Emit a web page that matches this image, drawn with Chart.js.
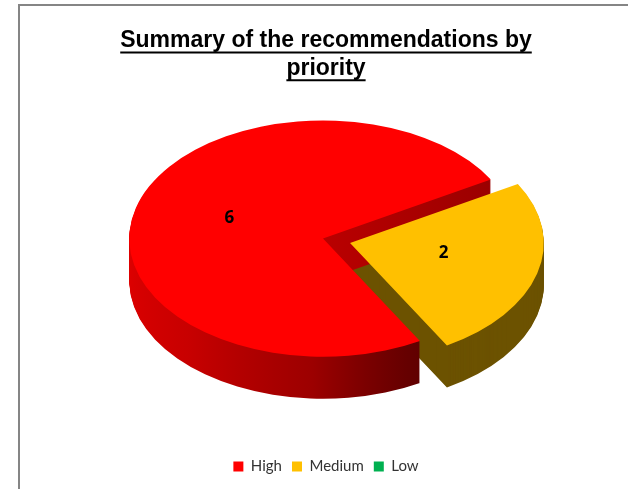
<!DOCTYPE html>
<html>
<head>
<meta charset="utf-8">
<script src="https://cdn.jsdelivr.net/npm/chart.js@4.4.1/dist/chart.umd.min.js"></script>
<style>
  html, body { margin: 0; padding: 0; background: #fff; overflow: hidden; }
  #wrap { position: relative; width: 628px; height: 489px; }
  #frame { position: absolute; left: 18px; top: 4px; width: 700px; height: 600px;
           border-left: 2px solid #858585; border-top: 2px solid #858585; }
  #c { position: absolute; left: 0; top: 0; }
</style>
</head>
<body>
<div id="wrap">
  <div id="frame"></div>
  <canvas id="c" width="628" height="489"></canvas>
</div>
<script>
// Chart content
const titleLines = ['Summary of the recommendations by', 'priority'];
const priorities = ['High', 'Medium', 'Low'];
const counts = [6, 2, 0];

// Styling
const topColors = ['#ff0000', '#ffc000', '#00b050'];
const pulledOut = [0, 80, 0];

// Side colour of each slice (the wall below the top face)
function sideFill(ctx, index, cx, cy, R) {
  if (index === 0) {
    const g = ctx.createLinearGradient(cx - R, cy - 0.6 * R, cx + R, cy + 0.6 * R);
    g.addColorStop(0, '#e80000');
    g.addColorStop(0.4, '#c80000');
    g.addColorStop(0.7, '#9c0000');
    g.addColorStop(0.85, '#680000');
    g.addColorStop(0.9, '#580000');
    g.addColorStop(1, '#500000');
    return g;
  }
  if (index === 1) return '#6c5200';
  return '#006830';
}

// Tilted, extruded pie: the library's arcs are drawn through a squashing
// transform, with stacked darker copies underneath forming the walls.
const pie3d = {
  id: 'pie3d',
  view(chart, opts) {
    const arcs = chart.getDatasetMeta(0).data;
    const a = arcs[0];
    const cx = a.x, cy = a.y;
    const sx = opts.stretch, sy = opts.stretch * opts.tilt;
    const tx = cx + opts.shiftX, ty = cy + opts.shiftY;
    return { arcs, cx, cy, sx, sy, tx, ty, R: a.outerRadius };
  },
  apply(ctx, v, dy) {
    ctx.translate(v.tx, v.ty + dy);
    ctx.scale(v.sx, v.sy);
    ctx.translate(-v.cx, -v.cy);
  },
  beforeDatasetsDraw(chart, args, opts) {
    const ctx = chart.ctx;
    const v = this.view(chart, opts);
    for (let i = v.arcs.length - 1; i >= 0; i--) {
      const arc = v.arcs[i];
      ctx.save();
      this.apply(ctx, v, 0);
      const fill = sideFill(ctx, i, v.cx, v.cy, v.R);
      ctx.restore();
      const wall = Object.create(arc);
      wall.options = Object.assign({}, arc.options, { backgroundColor: fill });
      for (let k = opts.depth; k >= 1; k--) {
        ctx.save();
        this.apply(ctx, v, k);
        arc.draw.call(wall, ctx);
        ctx.restore();
      }
    }
    ctx.save();
    this.apply(ctx, v, 0);
  },
  afterDatasetsDraw(chart, args, opts) {
    const ctx = chart.ctx;
    ctx.restore();
    const v = this.view(chart, opts);
    const values = chart.data.datasets[0].data;
    ctx.save();
    ctx.fillStyle = '#000';
    ctx.font = 'bold 17px "Open Sans", sans-serif';
    ctx.textAlign = 'center';
    ctx.textBaseline = 'middle';
    v.arcs.forEach((arc, i) => {
      if (!values[i]) return;
      const { startAngle, endAngle, innerRadius, outerRadius } =
        arc.getProps(['startAngle', 'endAngle', 'innerRadius', 'outerRadius'], true);
      const h = (startAngle + endAngle) / 2;
      const r = (innerRadius + outerRadius) / 2 + (arc.options.offset || 0) / 4;
      const ax = v.cx + Math.cos(h) * r;
      const ay = v.cy + Math.sin(h) * r;
      const X = v.tx + (ax - v.cx) * v.sx;
      const Y = v.ty + (ay - v.cy) * v.sy + opts.labelLift;
      ctx.fillText(String(values[i]), X, Y);
    });
    ctx.restore();
  }
};

// Underline under each title line
const titleUnderline = {
  id: 'titleUnderline',
  afterDraw(chart) {
    const t = chart.titleBlock;
    if (!t) return;
    const o = chart.options.plugins.title;
    const ctx = chart.ctx;
    const size = o.font.size;
    const lh = size * o.font.lineHeight;
    ctx.save();
    ctx.font = 'bold ' + size + 'px ' + o.font.family;
    ctx.strokeStyle = o.color;
    ctx.lineWidth = 2;
    const midX = t.left + t.width / 2;
    titleLines.forEach((line, i) => {
      const w = ctx.measureText(line).width;
      const y = t.top + o.padding.top + lh / 2 + i * lh + size * 0.36 + 3.5;
      ctx.beginPath();
      ctx.moveTo(midX - w / 2, y);
      ctx.lineTo(midX + w / 2, y);
      ctx.stroke();
    });
    ctx.restore();
  }
};

new Chart(document.getElementById('c'), {
  type: 'pie',
  data: {
    labels: priorities,
    datasets: [{
      data: counts,
      backgroundColor: topColors,
      borderWidth: 0,
      offset: pulledOut,
      clip: false
    }]
  },
  options: {
    responsive: false,
    animation: false,
    events: [],
    rotation: 150,
    layout: { padding: { left: 24, right: 0, top: 0, bottom: 5 } },
    plugins: {
      title: {
        display: true,
        text: titleLines,
        color: '#000',
        font: { family: '"Liberation Sans", Arial, sans-serif', size: 23, weight: 'bold', lineHeight: 1.2 },
        padding: { top: 27, bottom: 10 }
      },
      legend: {
        position: 'bottom',
        labels: {
          boxWidth: 10,
          boxHeight: 10,
          padding: 10,
          color: '#333',
          font: { family: 'Lato, "Open Sans", sans-serif', size: 15 }
        }
      },
      tooltip: { enabled: false },
      pie3d: { stretch: 1.4, tilt: 0.61, depth: 42, shiftX: -3, shiftY: -32, labelLift: -5 }
    }
  },
  plugins: [pie3d, titleUnderline]
});
</script>
</body>
</html>
